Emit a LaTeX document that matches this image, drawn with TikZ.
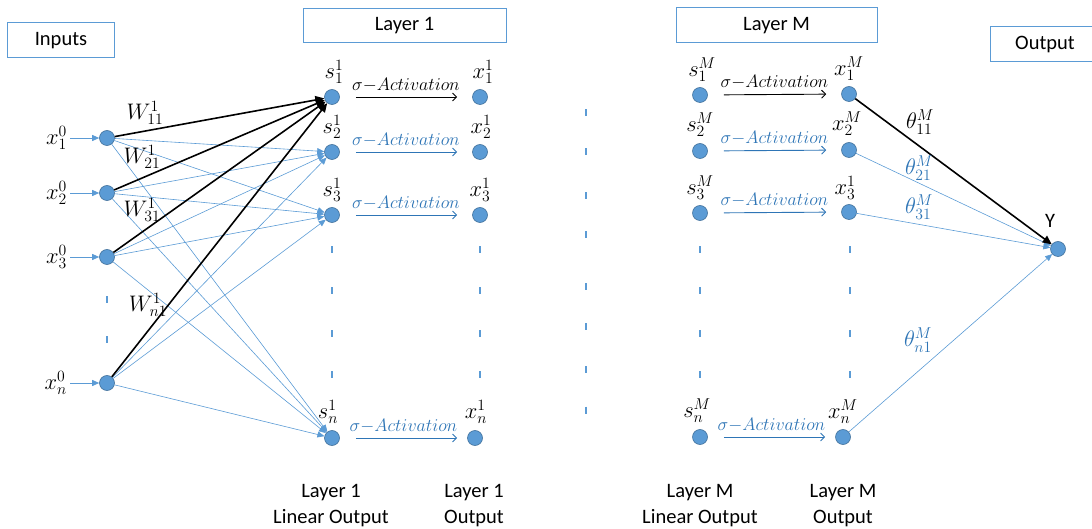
\documentclass[tikz,border=0pt]{standalone}
\usepackage{fix-cm}
\usepackage{fontspec}
\setmainfont{Carlito}
\usetikzlibrary{arrows.meta}
\definecolor{nodefill}{HTML}{5B9BD5}
\definecolor{nodeline}{HTML}{41719C}
\definecolor{linkblue}{HTML}{5B9BD5}
\definecolor{textblue}{HTML}{2E75B6}

\begin{document}
\begin{tikzpicture}[x=1bp,y=-1bp,
  neuron/.style={circle, fill=nodefill, draw=nodeline, line width=0.6bp,
    minimum size=15bp, inner sep=0pt},
  titlebox/.style={draw=linkblue, line width=1bp, inner sep=0pt,
    font=\fontsize{20.5bp}{24bp}\selectfont},
  caption/.style={align=center, inner sep=0pt, font=\fontsize{20.5bp}{26bp}\selectfont},
  mlab/.style={inner sep=0pt, font=\fontsize{22.5bp}{26bp}\selectfont},
  actlab/.style={inner sep=0pt, font=\fontsize{18bp}{20bp}\selectfont},
  thinlink/.style={draw=linkblue, line width=0.6bp,
    -{Triangle[length=7bp,width=6bp]}},
  thicklink/.style={draw=black, line width=1.6bp,
    -{Triangle[length=9bp,width=8bp]}},
  inlink/.style={draw=linkblue, line width=0.8bp, shorten <=3bp,
    -{Triangle[length=7bp,width=6bp]}},
  act/.style={line width=0.9bp, shorten <=16bp, shorten >=15bp,
    -{Straight Barb[length=4bp,width=8bp]}},
  vdash/.style={draw=linkblue, line width=2bp},
]
\useasboundingbox (0,0) rectangle (1092,529);

% title boxes
\node[titlebox, minimum width=106bp, minimum height=35bp] (tinputs) at (61,40.5) {Inputs};
\node[titlebox, minimum width=203bp, minimum height=34bp] (tlayer1) at (404.5,26) {Layer 1};
\node[titlebox, minimum width=201bp, minimum height=35bp] (tlayerM) at (776.5,25.5) {Layer M};
\node[titlebox, minimum width=110bp, minimum height=35bp] (toutput) at (1045,44.5) {Output};

% input neurons
\node[neuron] (in1) at (107,138) {};
\node[neuron] (in2) at (107,193) {};
\node[neuron] (in3) at (107,257) {};
\node[neuron] (inn) at (107,383) {};
\node[mlab, anchor=east] (lx1) at (67,138) {$x_1^0$};
\node[mlab, anchor=east] (lx2) at (67,193) {$x_2^0$};
\node[mlab, anchor=east] (lx3) at (67,257) {$x_3^0$};
\node[mlab, anchor=east] (lxn) at (67,383) {$x_n^0$};
\foreach \a/\b in {lx1/in1, lx2/in2, lx3/in3, lxn/inn}
  \draw[inlink] (\a) -- (\b);

% layer 1: linear outputs and activations
\node[neuron] (s1) at (332,97) {};
\node[neuron] (s2) at (332,152) {};
\node[neuron] (s3) at (332,215) {};
\node[neuron] (sn) at (332,438) {};
\node[neuron] (h1) at (480,97) {};
\node[neuron] (h2) at (480,152) {};
\node[neuron] (h3) at (480,215) {};
\node[neuron] (hn) at (475,438) {};
\node[mlab, anchor=south] (ls1) at (334,84) {$s_1^1$};
\node[mlab, anchor=south] (ls2) at (332,139) {$s_2^1$};
\node[mlab, anchor=south] (ls3) at (332,202) {$s_3^1$};
\node[mlab, anchor=south] (lsn) at (328,424) {$s_n^1$};
\node[mlab, anchor=south] (lh1) at (483,84) {$x_1^1$};
\node[mlab, anchor=south] (lh2) at (481,139) {$x_2^1$};
\node[mlab, anchor=south] (lh3) at (480,202) {$x_3^1$};
\node[mlab, anchor=south] (lhn) at (476,424) {$x_n^1$};

% layer M: linear outputs and activations
\node[neuron] (t1) at (700,95) {};
\node[neuron] (t2) at (700,151) {};
\node[neuron] (t3) at (700,213) {};
\node[neuron] (tn) at (700,437) {};
\node[neuron] (m1) at (849,94) {};
\node[neuron] (m2) at (849,150) {};
\node[neuron] (m3) at (849,212) {};
\node[neuron] (mn) at (843,437) {};
\node[mlab, anchor=south] (lt1) at (702,82) {$s_1^M$};
\node[mlab, anchor=south] (lt2) at (700,137) {$s_2^M$};
\node[mlab, anchor=south] (lt3) at (700,200) {$s_3^M$};
\node[mlab, anchor=south] (ltn) at (697,423) {$s_n^M$};
\node[mlab, anchor=south] (lm1) at (849,81) {$x_1^M$};
\node[mlab, anchor=south] (lm2) at (847,136) {$x_2^M$};
\node[mlab, anchor=south] (lm3) at (845,200) {$x_3^1$};
\node[mlab, anchor=south] (lmn) at (843,424) {$x_n^M$};

% output neuron
\node[neuron] (Y) at (1058,249) {};
\node[inner sep=0pt, font=\fontsize{20.5bp}{24bp}\selectfont] (ylab) at (1050,221) {Y};

% input -> linear output weights
\foreach \i in {in1,in2,in3,inn} {
  \draw[thinlink] (\i) -- (s2);
  \draw[thinlink] (\i) -- (s3);
  \draw[thinlink] (\i) -- (sn);
}
\foreach \i in {in1,in2,in3,inn}
  \draw[thicklink] (\i) -- (s1);
\node[mlab] (w11) at (145,113) {$W_{11}^1$};
\node[mlab] (w21) at (142,157) {$W_{21}^1$};
\node[mlab] (w31) at (142,210) {$W_{31}^1$};
\node[mlab] (wn1) at (148,305) {$W_{n1}^1$};

% activation arrows
\draw[act, black] (s1) -- node[actlab, above=5bp] {$\sigma{-}Activation$} (h1);
\draw[act, textblue] (s2) -- node[actlab, above=5bp] {$\sigma{-}Activation$} (h2);
\draw[act, textblue] (s3) -- node[actlab, above=5bp] {$\sigma{-}Activation$} (h3);
\draw[act, textblue, shorten >=10bp] (sn) -- node[actlab, above=5bp] {$\sigma{-}Activation$} (hn);
\draw[act, black] (t1) -- node[actlab, above=5bp] {$\sigma{-}Activation$} (m1);
\draw[act, textblue] (t2) -- node[actlab, above=5bp] {$\sigma{-}Activation$} (m2);
\draw[act, textblue] (t3) -- node[actlab, above=5bp] {$\sigma{-}Activation$} (m3);
\draw[act, textblue, shorten >=10bp] (tn) -- node[actlab, above=5bp] {$\sigma{-}Activation$} (mn);

% last layer -> output
\draw[thinlink] (m2) -- (Y);
\draw[thinlink] (m3) -- (Y);
\draw[thinlink] (mn) -- (Y);
\draw[thicklink] (m1) -- (Y);
\node[mlab] (th11) at (920,122) {$\theta_{11}^M$};
\node[mlab, text=textblue] (th21) at (919,168) {$\theta_{21}^M$};
\node[mlab, text=textblue] (th31) at (919,207) {$\theta_{31}^M$};
\node[mlab, text=textblue] (thn1) at (918,340) {$\theta_{n1}^M$};

% ellipsis dashes
\foreach \y in {300,340}
  \draw[vdash] (107,\y-3.5) -- (107,\y+3.5);
\foreach \x in {332,480,700,850}
  \foreach \y in {250,291,334,375}
    \draw[vdash] (\x,\y-3.5) -- (\x,\y+3.5);
\foreach \y in {113,152,196,235,287,327,370,410}
  \draw[vdash] (586,\y-3.5) -- (586,\y+3.5);

% column captions
\node[caption] (c1) at (331,506) {Layer 1\\Linear Output};
\node[caption] (c2) at (474,506) {Layer 1\\Output};
\node[caption] (c3) at (700,506) {Layer M\\Linear Output};
\node[caption] (c4) at (843,506) {Layer M\\Output};
\end{tikzpicture}
\end{document}
